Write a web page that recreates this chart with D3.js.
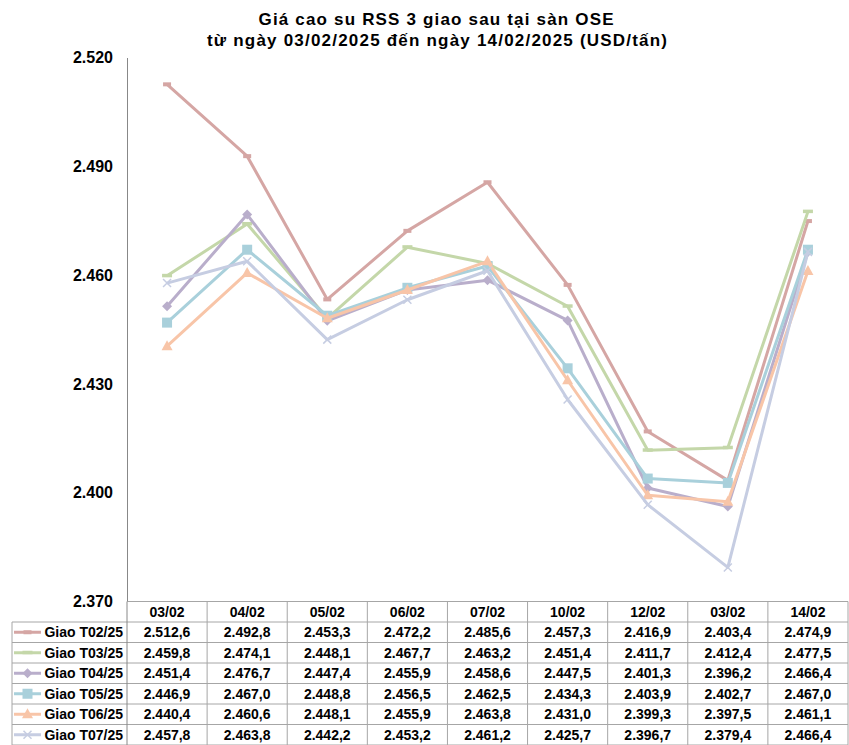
<!DOCTYPE html>
<html>
<head>
<meta charset="utf-8">
<script src="https://cdn.jsdelivr.net/npm/d3@7"></script>
<style>
  body { margin: 0; background: #fff; }
  text { font-family: "Liberation Sans", Arial, sans-serif; font-weight: bold; fill: #000; }
</style>
</head>
<body>
<script>
// chart data
var dates = ["03/02", "04/02", "05/02", "06/02", "07/02", "10/02", "12/02", "03/02", "14/02"];
var seriesNames = ["Giao T02/25", "Giao T03/25", "Giao T04/25", "Giao T05/25", "Giao T06/25", "Giao T07/25"];
var t02 = [2512.6, 2492.8, 2453.3, 2472.2, 2485.6, 2457.3, 2416.9, 2403.4, 2474.9];
var t03 = [2459.8, 2474.1, 2448.1, 2467.7, 2463.2, 2451.4, 2411.7, 2412.4, 2477.5];
var t04 = [2451.4, 2476.7, 2447.4, 2455.9, 2458.6, 2447.5, 2401.3, 2396.2, 2466.4];
var t05 = [2446.9, 2467.0, 2448.8, 2456.5, 2462.5, 2434.3, 2403.9, 2402.7, 2467.0];
var t06 = [2440.4, 2460.6, 2448.1, 2455.9, 2463.8, 2431.0, 2399.3, 2397.5, 2461.1];
var t07 = [2457.8, 2463.8, 2442.2, 2453.2, 2461.2, 2425.7, 2396.7, 2379.4, 2466.4];
var yTicks = [2370, 2400, 2430, 2460, 2490, 2520];

var allSeries = [t02, t03, t04, t05, t06, t07];
var colors = ["#d5a6a4", "#c4d7a9", "#b9aecb", "#a9d0db", "#f8c5a8", "#c6cde2"];
var markers = ["dash", "dash2", "diamond", "square", "triangle", "cross"];

var width = 849, height = 745;
var plotLeft = 127, plotRight = 848, plotTop = 57.5, plotBottom = 601.5;
var rowH = 20.5, tableLeft = 12;

var vn = d3.formatLocale({decimal: ",", thousands: ".", grouping: [3], currency: ["", ""]});
var fmtTick = vn.format(",.0f");
var fmtVal = vn.format(",.1f");

var svg = d3.select("body").append("svg")
    .attr("width", width)
    .attr("height", height);

// title
svg.append("text").attr("x", 436).attr("y", 25).attr("text-anchor", "middle")
    .style("font-size", "17px")
    .attr("textLength", 355).attr("lengthAdjust", "spacing")
    .text("Giá cao su RSS 3 giao sau tại sàn OSE");
svg.append("text").attr("x", 437).attr("y", 46).attr("text-anchor", "middle")
    .style("font-size", "17px")
    .attr("textLength", 460).attr("lengthAdjust", "spacing")
    .text("từ ngày 03/02/2025 đến ngày 14/02/2025 (USD/tấn)");

var x = d3.scaleBand().domain(d3.range(dates.length)).range([plotLeft, plotRight]);
var y = d3.scaleLinear().domain([2370, 2520]).range([plotBottom, plotTop]);

// y axis
var yAxis = d3.axisLeft(y).tickValues(yTicks).tickFormat(fmtTick).tickSize(0).tickPadding(14);
var gy = svg.append("g").attr("transform", "translate(" + plotLeft + ",0)").call(yAxis);
gy.select(".domain").attr("stroke", "#888").attr("stroke-width", 1);
gy.selectAll("text").style("font-size", "16px").style("font-family", "Liberation Sans, Arial, sans-serif");

function drawMarker(g, type, color, cx, cy) {
  if (type === "dash") {
    g.append("rect").attr("x", cx - 4).attr("y", cy - 2).attr("width", 8).attr("height", 4).attr("fill", color);
  } else if (type === "dash2") {
    g.append("rect").attr("x", cx - 5).attr("y", cy - 2).attr("width", 10).attr("height", 3.5).attr("fill", color);
  } else if (type === "diamond") {
    g.append("path").attr("d", "M" + cx + "," + (cy - 5) + "L" + (cx + 5) + "," + cy + "L" + cx + "," + (cy + 5) + "L" + (cx - 5) + "," + cy + "Z").attr("fill", color);
  } else if (type === "square") {
    g.append("rect").attr("x", cx - 5).attr("y", cy - 5).attr("width", 10).attr("height", 10).attr("fill", color);
  } else if (type === "triangle") {
    g.append("path").attr("d", "M" + cx + "," + (cy - 6) + "L" + (cx + 5.5) + "," + (cy + 4) + "L" + (cx - 5.5) + "," + (cy + 4) + "Z").attr("fill", color);
  } else if (type === "cross") {
    g.append("path").attr("d", "M" + (cx - 4) + "," + (cy - 4) + "L" + (cx + 4) + "," + (cy + 4) + "M" + (cx + 4) + "," + (cy - 4) + "L" + (cx - 4) + "," + (cy + 4))
        .attr("stroke", color).attr("stroke-width", 1.5).attr("fill", "none");
  }
}

var line = d3.line()
    .x(function (d, i) { return x(i) + x.bandwidth() / 2; })
    .y(function (d) { return y(d); });

allSeries.forEach(function (s, k) {
  var g = svg.append("g");
  g.append("path").datum(s).attr("d", line)
      .attr("fill", "none").attr("stroke", colors[k]).attr("stroke-width", 3)
      .attr("stroke-linejoin", "round");
  s.forEach(function (v, i) {
    drawMarker(g, markers[k], colors[k], x(i) + x.bandwidth() / 2, y(v));
  });
});

// data table
var grid = "#a6a6a6";
var tbl = svg.append("g");
var tableBottom = plotBottom + rowH * (allSeries.length + 1);
// horizontal lines
tbl.append("line").attr("x1", plotLeft).attr("x2", plotRight).attr("y1", plotBottom).attr("y2", plotBottom).attr("stroke", grid);
for (var r = 1; r <= allSeries.length + 1; r++) {
  tbl.append("line").attr("x1", tableLeft).attr("x2", plotRight)
      .attr("y1", plotBottom + r * rowH).attr("y2", plotBottom + r * rowH).attr("stroke", grid);
}
// vertical lines
tbl.append("line").attr("x1", tableLeft).attr("x2", tableLeft).attr("y1", plotBottom + rowH).attr("y2", tableBottom).attr("stroke", grid);
tbl.append("line").attr("x1", plotLeft).attr("x2", plotLeft).attr("y1", plotBottom).attr("y2", tableBottom).attr("stroke", "#888");
dates.forEach(function (d, i) {
  var xr = x(i) + x.bandwidth();
  tbl.append("line").attr("x1", xr).attr("x2", xr).attr("y1", plotBottom).attr("y2", tableBottom).attr("stroke", grid);
  tbl.append("text").attr("x", x(i) + x.bandwidth() / 2).attr("y", plotBottom + rowH / 2 + 5)
      .attr("text-anchor", "middle").style("font-size", "14px").text(d);
});
allSeries.forEach(function (s, k) {
  var cy = plotBottom + rowH * (k + 1) + rowH / 2;
  var lg = tbl.append("g");
  lg.append("line").attr("x1", 14).attr("x2", 41).attr("y1", cy).attr("y2", cy)
      .attr("stroke", colors[k]).attr("stroke-width", 3);
  drawMarker(lg, markers[k], colors[k], 27.5, cy);
  tbl.append("text").attr("x", 123).attr("y", cy + 5).attr("text-anchor", "end")
      .style("font-size", "14px").text(seriesNames[k]);
  s.forEach(function (v, i) {
    tbl.append("text").attr("x", x(i) + x.bandwidth() / 2).attr("y", cy + 5)
        .attr("text-anchor", "middle").style("font-size", "14px").text(fmtVal(v));
  });
});
</script>
</body>
</html>
